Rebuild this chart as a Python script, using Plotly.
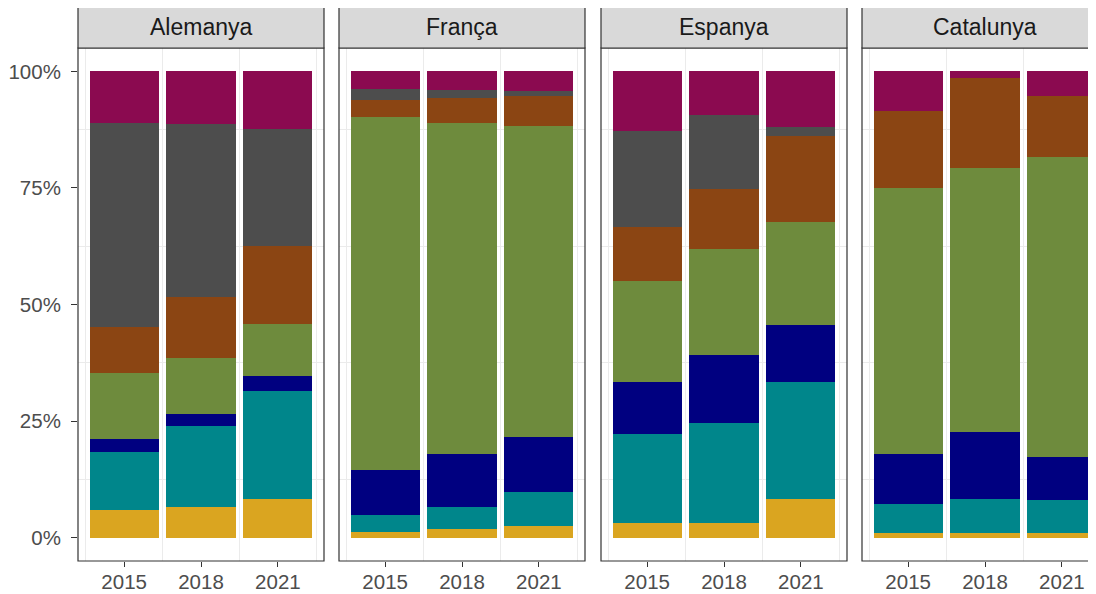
import plotly.graph_objects as go

# anys i països (facetes)
years = [2015, 2018, 2021]
countries = ["Alemanya", "França", "Espanya", "Catalunya"]

# percentatge de cada categoria (de baix a dalt), per any 2015, 2018, 2021
cat1 = {"Alemanya": [5.9, 6.65, 8.4], "França": [1.2, 1.8, 2.4],
        "Espanya": [3.1, 3.2, 8.4], "Catalunya": [0.9, 0.9, 0.9]}
cat2 = {"Alemanya": [12.4, 17.25, 23.1], "França": [3.7, 4.85, 7.5],
        "Espanya": [19.1, 21.3, 25.0], "Catalunya": [6.4, 7.3, 7.2]}
cat3 = {"Alemanya": [2.9, 2.7, 3.1], "França": [9.6, 11.25, 11.7],
        "Espanya": [11.2, 14.6, 12.1], "Catalunya": [10.7, 14.5, 9.2]}
cat4 = {"Alemanya": [14.2, 11.9, 11.3], "França": [75.6, 71.0, 66.7],
        "Espanya": [21.7, 22.7, 22.2], "Catalunya": [56.9, 56.6, 64.3]}
cat5 = {"Alemanya": [9.7, 13.1, 16.6], "França": [3.7, 5.3, 6.5],
        "Espanya": [11.5, 12.9, 18.4], "Catalunya": [16.5, 19.2, 13.2]}
cat6 = {"Alemanya": [43.9, 37.2, 25.2], "França": [2.5, 1.9, 0.9],
        "Espanya": [20.7, 15.9, 1.9], "Catalunya": [0, 0, 0]}
cat7 = {"Alemanya": [11.0, 11.2, 12.3], "França": [3.7, 3.9, 4.3],
        "Espanya": [12.7, 9.4, 12.0], "Catalunya": [8.6, 1.5, 5.2]}

y_ticks = [0, 25, 50, 75, 100]
y_labels = ["0%", "25%", "50%", "75%", "100%"]

series = [cat1, cat2, cat3, cat4, cat5, cat6, cat7]
colors = ["#DAA520", "#00868B", "#000080", "#6E8B3D", "#8B4513", "#4D4D4D", "#8B0A50"]

W, H = 1096, 594
OFF = 8  # marge del body de la pàgina
panels_px = [(78, 324), (339, 585), (601, 847), (862, 1108)]
top_px, bot_px, strip_top_px = 48, 561, 5
xr = [2013.2, 2022.8]
px_per_year = (panels_px[0][1] - panels_px[0][0]) / (xr[1] - xr[0])


def px(x):
    return (x - OFF) / W


def py(y):
    return (H - (y - OFF)) / H


fig = go.Figure()
shapes = []
annotations = []
fnt = "Liberation Sans, Arial, sans-serif"

for i, c in enumerate(countries):
    ax = "" if i == 0 else str(i + 1)
    for s, col in zip(series, colors):
        fig.add_trace(go.Bar(x=years, y=s[c], width=2.7, marker_color=col,
                             marker_line_width=0, showlegend=False,
                             xaxis="x" + ax, yaxis="y" + ax))
    x0, x1 = panels_px[i]
    x1_vis = min(x1, W + OFF)
    rng = [xr[0], xr[0] + (x1_vis - x0) / px_per_year]
    fig.layout["xaxis" + ax] = dict(
        domain=[px(x0), min(px(x1_vis), 1.0)], range=rng, anchor="y" + ax,
        tickvals=years, ticktext=[str(y) for y in years],
        ticks="outside", ticklen=5, tickcolor="#333333", tickwidth=1,
        ticklabelstandoff=-3,
        tickfont=dict(size=20.5, color="#4D4D4D", family=fnt),
        showgrid=False, zeroline=False, showline=False,
        minor=dict(tickvals=[2013.5, 2016.5, 2019.5, 2022.5], showgrid=True,
                   gridcolor="#EBEBEB", gridwidth=1),
    )
    fig.layout["yaxis" + ax] = dict(
        domain=[py(bot_px), py(top_px)], range=[-5, 105],
        anchor="x" + ax, tickvals=y_ticks, ticktext=y_labels,
        showticklabels=(i == 0),
        ticks="outside" if i == 0 else "", ticklen=6, tickcolor="#333333", tickwidth=1,
        ticklabelstandoff=6,
        tickfont=dict(size=20.5, color="#4D4D4D", family=fnt),
        showgrid=False, zeroline=False, showline=False,
        minor=dict(tickvals=[12.5, 37.5, 62.5, 87.5], showgrid=True,
                   gridcolor="#EBEBEB", gridwidth=1),
    )
    # vora del panell
    shapes.append(dict(type="rect", xref="paper", yref="paper",
                       x0=px(x0), x1=px(x1), y0=py(bot_px), y1=py(top_px),
                       line=dict(color="#333333", width=1.2), fillcolor="rgba(0,0,0,0)"))
    # franja del títol
    shapes.append(dict(type="rect", xref="paper", yref="paper",
                       x0=px(x0), x1=px(x1), y0=py(top_px), y1=py(strip_top_px),
                       line=dict(color="#333333", width=1.2), fillcolor="#D9D9D9"))
    annotations.append(dict(text=c, xref="paper", yref="paper",
                            x=px((x0 + x1) / 2), y=py((top_px + strip_top_px) / 2),
                            showarrow=False, xanchor="center", yanchor="middle",
                            font=dict(size=23, color="#1A1A1A", family=fnt)))

fig.update_layout(
    width=W, height=H, barmode="stack",
    margin=dict(l=0, r=0, t=0, b=0),
    paper_bgcolor="white", plot_bgcolor="white",
    shapes=shapes, annotations=annotations,
    font=dict(family=fnt),
)

fig.write_html("out.html")
